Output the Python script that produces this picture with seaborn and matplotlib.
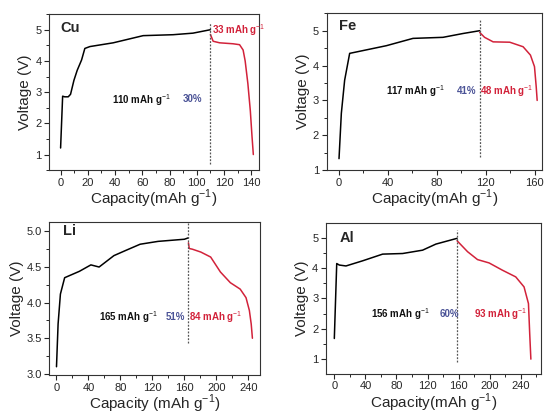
import matplotlib.pyplot as plt
import pandas as pd
import seaborn as sns
from matplotlib.ticker import MultipleLocator

sns.set_style('ticks')
plt.rcParams['font.family'] = ['Liberation Sans', 'DejaVu Sans']
plt.rcParams['mathtext.fontset'] = 'custom'
plt.rcParams['mathtext.rm'] = 'Liberation Sans'
plt.rcParams['mathtext.bf'] = 'Liberation Sans:bold'

RED = '#d2223a'
BLUE = '#4a5296'

# Cu
cu_charge_cap = [0, 1.5, 3, 5.6, 7.3, 9.8, 12.2, 15.4, 17.8, 21.5, 38.6, 60.6, 82.6, 97.2, 110]
cu_charge_v = [1.21, 2.87, 2.85, 2.85, 2.93, 3.38, 3.7, 4.03, 4.4, 4.46, 4.58, 4.81, 4.84, 4.89, 5.0]
cu_dis_cap = [110, 112, 116.8, 126.5, 131.4, 134, 135.5, 137.5, 139.3, 140.5, 141.5]
cu_dis_v = [4.85, 4.63, 4.58, 4.55, 4.52, 4.35, 4.0, 3.27, 2.4, 1.6, 1.0]

# Fe
fe_charge_cap = [0, 1.9, 4.6, 8.7, 38.7, 60.5, 85, 101.4, 115]
fe_charge_v = [1.33, 2.63, 3.58, 4.35, 4.57, 4.78, 4.81, 4.92, 5.0]
fe_dis_cap = [115, 119, 126, 139.6, 150.5, 156.5, 159.8, 161.2, 162]
fe_dis_v = [4.95, 4.81, 4.68, 4.67, 4.54, 4.3, 3.97, 3.4, 3.0]

# Li
li_charge_cap = [0, 2, 4.9, 10.2, 28.7, 43, 53.3, 71.8, 86, 104.6, 127, 160, 165]
li_charge_v = [3.1, 3.7, 4.12, 4.35, 4.44, 4.53, 4.5, 4.66, 4.73, 4.82, 4.86, 4.89, 4.91]
li_dis_cap = [165, 166, 170, 180.5, 192.8, 205, 217.4, 229.7, 237, 241.2, 243.5, 245]
li_dis_v = [4.84, 4.76, 4.75, 4.71, 4.64, 4.43, 4.28, 4.19, 4.07, 3.89, 3.7, 3.5]

# Al
al_charge_cap = [0, 3.1, 6.4, 15, 36.5, 62.2, 87.9, 113.6, 130.7, 158]
al_charge_v = [1.68, 4.15, 4.1, 4.07, 4.24, 4.46, 4.48, 4.59, 4.79, 4.98]
al_dis_cap = [158, 171.5, 184.3, 199.2, 216.4, 233.5, 244.2, 249.9, 251.5, 253]
al_dis_v = [4.9, 4.54, 4.28, 4.17, 3.93, 3.71, 3.38, 2.83, 1.84, 1.0]

panels = {
    'Cu': dict(charge=(cu_charge_cap, cu_charge_v), dis=(cu_dis_cap, cu_dis_v),
               rect=[0.0888, 0.590, 0.380, 0.376], xlim=(-8.5, 145.5), ylim=(0.5, 5.5),
               xmaj=20, ymaj=1, vline=(0.71, 5.23), xlabel='Capacity(mAh g$^{-1}$)',
               name=(0, 5.06), main=('110 mAh g$^{-1}$', 38, 2.75),
               pct=('30%', 89.5, 2.78), dis_text=('33 mAh g$^{-1}$', 111.5, 5.0)),
    'Fe': dict(charge=(fe_charge_cap, fe_charge_v), dis=(fe_dis_cap, fe_dis_v),
               rect=[0.592, 0.590, 0.390, 0.378], xlim=(-10, 166), ylim=(1, 5.5),
               xmaj=40, ymaj=1, vline=(1.38, 5.31), xlabel='Capacity(mAh g$^{-1}$)',
               name=(0, 5.13), main=('117 mAh g$^{-1}$', 38.5, 3.28),
               pct=('41%', 96, 3.28), dis_text=('48 mAh g$^{-1}$', 115.5, 3.28)),
    'Li': dict(charge=(li_charge_cap, li_charge_v), dis=(li_dis_cap, li_dis_v),
               rect=[0.0893, 0.0957, 0.381, 0.369], xlim=(-9, 254), ylim=(2.98, 5.13),
               xmaj=40, ymaj=0.5, vline=(3.44, 5.13), xlabel='Capacity (mAh g$^{-1}$)',
               name=(8, 5.0), main=('165 mAh g$^{-1}$', 53, 3.8),
               pct=('51%', 137, 3.8), dis_text=('84 mAh g$^{-1}$', 166, 3.8)),
    'Al': dict(charge=(al_charge_cap, al_charge_v), dis=(al_dis_cap, al_dis_v),
               rect=[0.5906, 0.0995, 0.389, 0.3635], xlim=(-10.7, 265.7), ylim=(0.52, 5.49),
               xmaj=40, ymaj=1, vline=(0.9, 5.25), xlabel='Capacity(mAh g$^{-1}$)',
               name=(6.4, 4.98), main=('156 mAh g$^{-1}$', 47, 2.5),
               pct=('60%', 135, 2.5), dis_text=('93 mAh g$^{-1}$', 180, 2.5)),
}

fig = plt.figure(figsize=(5.52, 4.15), dpi=100)

for name, p in panels.items():
    ax = fig.add_axes(p['rect'])
    df = pd.concat([
        pd.DataFrame({'cap': p['charge'][0], 'v': p['charge'][1], 'phase': 'charge'}),
        pd.DataFrame({'cap': p['dis'][0], 'v': p['dis'][1], 'phase': 'discharge'}),
    ])
    sns.lineplot(data=df, x='cap', y='v', hue='phase', palette={'charge': 'black', 'discharge': RED},
                 sort=False, estimator=None, linewidth=1.1, legend=False, ax=ax)
    xcut = p['charge'][0][-1]
    ax.vlines(xcut, *p['vline'], colors='#555555', linestyles=(0, (1.5, 1.2)), linewidth=0.9)

    ax.set_xlim(*p['xlim'])
    ax.set_ylim(*p['ylim'])
    ax.xaxis.set_major_locator(MultipleLocator(p['xmaj']))
    ax.xaxis.set_minor_locator(MultipleLocator(p['xmaj'] / 2))
    ax.yaxis.set_major_locator(MultipleLocator(p['ymaj']))
    ax.yaxis.set_minor_locator(MultipleLocator(p['ymaj'] / 2))
    if name == 'Li':
        ax.yaxis.set_major_formatter(plt.FormatStrFormatter('%.1f'))
    ax.tick_params(which='major', direction='out', length=3.5, width=0.8, labelsize=8, pad=2)
    ax.tick_params(which='minor', direction='out', length=2, width=0.7)
    for s in ax.spines.values():
        s.set_linewidth(0.8)
        s.set_color('#333333')
    ax.set_xlabel(p['xlabel'], fontsize=11, labelpad=0)
    ax.set_ylabel('Voltage (V)', fontsize=11, labelpad=2)

    ax.text(p['name'][0], p['name'][1], name, fontsize=10.5, fontweight='bold', ha='left', va='center')
    t, x, y = p['main']
    ax.text(x, y, t, fontsize=7, fontweight='bold', ha='left', va='center', color='#111111')
    t, x, y = p['pct']
    ax.text(x, y, t, fontsize=7, fontweight='bold', ha='left', va='center', color=BLUE)
    t, x, y = p['dis_text']
    ax.text(x, y, t, fontsize=7, fontweight='bold', ha='left', va='center', color=RED)

fig.savefig('out.png', dpi=100)
